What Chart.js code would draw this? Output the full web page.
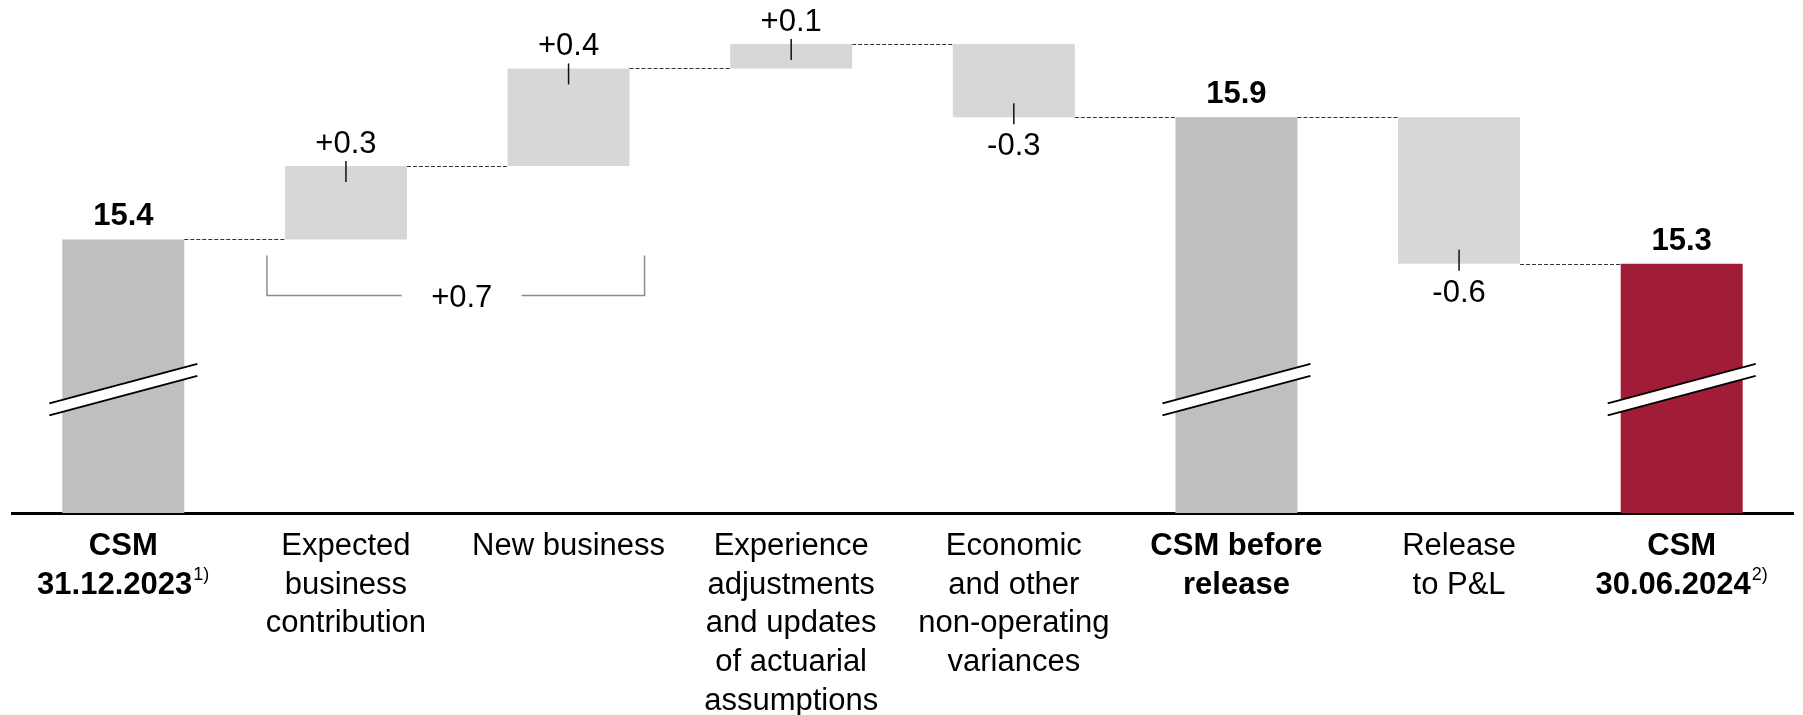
<!DOCTYPE html>
<html>
<head>
<meta charset="utf-8">
<script src="https://cdn.jsdelivr.net/npm/chart.js@4.4.0/dist/chart.umd.min.js"></script>
<style>
    html, body { margin: 0; padding: 0; background: #fff; }
</style>
</head>
<body>
<canvas id="csm" width="1803" height="715"></canvas>
<script>
const categories = [
    ['CSM', '31.12.2023'],
    ['Expected', 'business', 'contribution'],
    ['New business'],
    ['Experience', 'adjustments', 'and updates', 'of actuarial', 'assumptions'],
    ['Economic', 'and other', 'non-operating', 'variances'],
    ['CSM before', 'release'],
    ['Release', 'to P&L'],
    ['CSM', '30.06.2024']
];
const values = [15.4, 0.3, 0.4, 0.1, -0.3, 15.9, -0.6, 15.3];
const is_total = [true, false, false, false, false, true, false, true];
const footnotes = ['1)', '', '', '', '', '', '', '2)'];
const bracket_bars = [1, 2];
const axis_range = [14.28, 16.38];
const break_at = 14.785;

const font_family = "'Liberation Sans', Arial, sans-serif";
const tick_pad = 14;
const colors = values.map((v, i) => i === values.length - 1 ? '#A01C37' : (is_total[i] ? '#BFBFBF' : '#D6D7D9'));

// running levels and floating ranges for the waterfall
const levels = [];
const ranges = [];
let running = 0;
for (let i = 0; i < values.length; ++i) {
    if (is_total[i]) {
        running = values[i];
        ranges.push([axis_range[0], running]);
    } else {
        ranges.push([running, running + values[i]]);
        running += values[i];
    }
    levels.push(running);
}

// footnoted lines get trailing spaces so the whole line incl. superscript stays centred
const tick_labels = categories.map((lines, i) => {
    if (!footnotes[i]) return lines;
    const copy = lines.slice();
    copy[copy.length - 1] += '  ';
    return copy;
});

function fmt_delta(v) {
    return (v > 0 ? '+' : '') + v.toFixed(1);
}

const waterfall_extras = {
    id: 'waterfall_extras',
    afterDatasetsDraw(chart) {
        const ctx = chart.ctx;
        const bars = chart.getDatasetMeta(0).data;
        const y = chart.scales.y;
        const x = chart.scales.x;
        ctx.save();

        // dashed connectors
        ctx.strokeStyle = '#333';
        ctx.lineWidth = 1;
        ctx.setLineDash([4, 2]);
        for (let i = 0; i < bars.length - 1; ++i) {
            const py = Math.round(y.getPixelForValue(levels[i])) + 0.5;
            ctx.beginPath();
            ctx.moveTo(bars[i].x + bars[i].width / 2, py);
            ctx.lineTo(bars[i + 1].x - bars[i + 1].width / 2, py);
            ctx.stroke();
        }
        ctx.setLineDash([]);

        // axis break marks on total bars
        for (let i = 0; i < bars.length; ++i) {
            if (!is_total[i]) continue;
            const b = bars[i];
            const half = b.width / 2 + 13;
            const yc = y.getPixelForValue(break_at);
            const k = 0.267 * half;
            ctx.fillStyle = '#fff';
            ctx.beginPath();
            ctx.moveTo(b.x - half, yc - 6 + k);
            ctx.lineTo(b.x + half, yc - 6 - k);
            ctx.lineTo(b.x + half, yc + 6 - k);
            ctx.lineTo(b.x - half, yc + 6 + k);
            ctx.closePath();
            ctx.fill();
            ctx.strokeStyle = '#000';
            ctx.lineWidth = 2;
            for (const off of [-6, 6]) {
                ctx.beginPath();
                ctx.moveTo(b.x - half, yc + off + k);
                ctx.lineTo(b.x + half, yc + off - k);
                ctx.stroke();
            }
        }

        // value labels
        ctx.fillStyle = '#000';
        ctx.textAlign = 'center';
        ctx.textBaseline = 'alphabetic';
        for (let i = 0; i < bars.length; ++i) {
            const b = bars[i];
            const top = Math.min(b.y, b.base);
            const bottom = Math.max(b.y, b.base);
            if (is_total[i]) {
                ctx.font = `bold 31px ${font_family}`;
                ctx.fillText(values[i].toFixed(1), b.x, top - 14);
                continue;
            }
            ctx.font = `31px ${font_family}`;
            ctx.strokeStyle = '#111';
            ctx.lineWidth = 1.5;
            ctx.beginPath();
            if (values[i] >= 0) {
                ctx.moveTo(b.x, top - 5);
                ctx.lineTo(b.x, top + 16);
                ctx.stroke();
                ctx.fillText(fmt_delta(values[i]), b.x, top - 13);
            } else {
                ctx.moveTo(b.x, bottom - 14);
                ctx.lineTo(b.x, bottom + 7);
                ctx.stroke();
                ctx.fillText(fmt_delta(values[i]), b.x, bottom + 38);
            }
        }

        // bracket summing the two operating items
        const b1 = bars[bracket_bars[0]];
        const b2 = bars[bracket_bars[1]];
        const left = b1.x - b1.width / 2 - 18;
        const right = b2.x + b2.width / 2 + 15;
        const btop = y.getPixelForValue(levels[bracket_bars[0] - 1]) + 16;
        const bbot = btop + 40;
        const sum = bracket_bars.reduce((s, i) => s + values[i], 0);
        const mid = (left + right) / 2 + 6;
        ctx.strokeStyle = '#8c8c8c';
        ctx.lineWidth = 1.5;
        ctx.beginPath();
        ctx.moveTo(left, btop);
        ctx.lineTo(left, bbot);
        ctx.lineTo(mid - 60, bbot);
        ctx.moveTo(mid + 60, bbot);
        ctx.lineTo(right, bbot);
        ctx.lineTo(right, btop);
        ctx.stroke();
        ctx.font = `31px ${font_family}`;
        ctx.fillText(fmt_delta(sum), mid, bbot + 12);

        // superscript footnotes on tick labels
        const lh = 31 * 1.25;
        for (let i = 0; i < categories.length; ++i) {
            if (!footnotes[i]) continue;
            const line_idx = categories[i].length - 1;
            const line = categories[i][line_idx];
            ctx.font = `bold 31px ${font_family}`;
            const w_full = ctx.measureText(tick_labels[i][line_idx]).width;
            const w_text = ctx.measureText(line).width;
            const cx = x.getPixelForValue(i);
            const cy = x.top + tick_pad + lh / 2 + lh * line_idx;
            ctx.font = `18px ${font_family}`;
            ctx.textAlign = 'left';
            ctx.fillText(footnotes[i], cx - w_full / 2 + w_text + 1, cy - 5);
            ctx.textAlign = 'center';
        }
        ctx.restore();
    }
};

new Chart(document.getElementById('csm'), {
    type: 'bar',
    data: {
        labels: tick_labels,
        datasets: [{
            data: ranges,
            backgroundColor: colors,
            borderWidth: 0,
            barPercentage: 0.548,
            categoryPercentage: 1
        }]
    },
    options: {
        responsive: false,
        devicePixelRatio: 1,
        animation: false,
        layout: { padding: { left: 12, right: 10, top: 0, bottom: 0 } },
        plugins: {
            legend: { display: false },
            tooltip: { enabled: false }
        },
        scales: {
            x: {
                grid: { display: false, drawTicks: false },
                border: { display: true, color: '#000', width: 3 },
                ticks: {
                    autoSkip: false,
                    maxRotation: 0,
                    minRotation: 0,
                    padding: tick_pad,
                    color: '#000',
                    font: (c) => ({
                        family: font_family,
                        size: 31,
                        lineHeight: 1.25,
                        weight: is_total[c.index] ? 'bold' : 'normal'
                    })
                },
                afterFit: (scale) => { scale.height = 202; }
            },
            y: {
                display: false,
                min: axis_range[0],
                max: axis_range[1]
            }
        }
    },
    plugins: [waterfall_extras]
});
</script>
</body>
</html>
